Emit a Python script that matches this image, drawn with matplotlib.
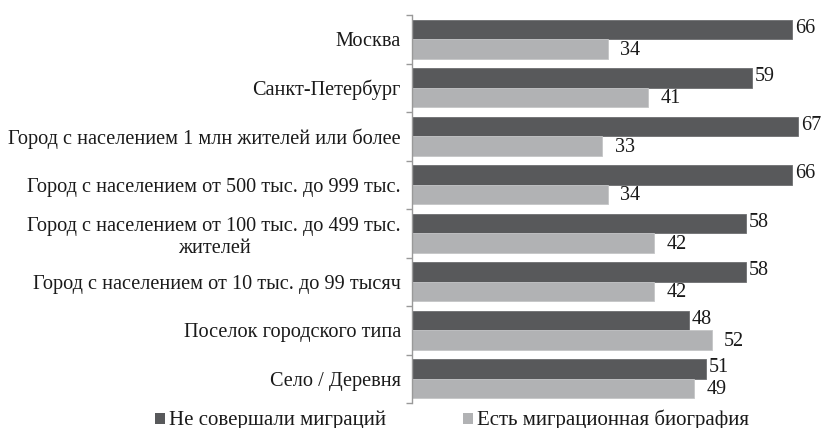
import numpy as np
import matplotlib
matplotlib.use('Agg')
import matplotlib.pyplot as plt
from matplotlib.patches import Rectangle

plt.rcParams['font.family'] = ['Liberation Serif', 'DejaVu Serif']

categories = ['Москва',
              'Санкт-Петербург',
              'Город с населением 1 млн жителей или более',
              'Город с населением от 500 тыс. до 999 тыс.',
              'Город с населением от 100 тыс. до 499 тыс.\nжителей',
              'Город с населением от 10 тыс. до 99 тысяч',
              'Поселок городского типа',
              'Село / Деревня']
no_migration = [66, 59, 67, 66, 58, 58, 48, 51]
migration = [34, 41, 33, 34, 42, 42, 52, 49]
series_names = ['Не совершали миграций', 'Есть миграционная биография']

dark = '#58595b'
light = '#b1b2b4'
text_col = '#1a1a1a'

W, H = 833, 428
fig = plt.figure(figsize=(W / 100, H / 100), dpi=100)
ax = fig.add_axes([412 / W, 1 - 403 / H, 415 / W, 388 / H])

y = np.arange(len(categories))
h = 0.4
ax.barh(y - h / 2, no_migration, height=h, color=dark, edgecolor='#6e6f71', linewidth=0.6)
ax.barh(y + h / 2, migration, height=h, color=light, edgecolor='#c4c5c7', linewidth=0.6)

# value labels just past the bar ends
for yi, v in zip(y, no_migration):
    ax.annotate(str(v), (v, yi - h / 2), xytext=(2, 1), textcoords='offset points',
                va='center', ha='left', fontsize=14.5, color=text_col)
for yi, v in zip(y, migration):
    ax.annotate(str(v), (v, yi + h / 2), xytext=(9, -1), textcoords='offset points',
                va='center', ha='left', fontsize=14.5, color=text_col)

ax.set_xlim(0, 72)
ax.set_ylim(len(categories) - 0.5, -0.5)
ax.set_yticks(y)
ax.set_yticklabels(categories, fontsize=14.6, color=text_col, multialignment='center')
ax.set_yticks(np.arange(len(categories) + 1) - 0.5, minor=True)
ax.tick_params(axis='y', which='major', length=0, pad=8)
ax.tick_params(axis='y', which='minor', length=4, color='#999999', width=1)
ax.set_xticks([])
for s in ['top', 'right', 'bottom']:
    ax.spines[s].set_visible(False)
ax.spines['left'].set_color('#999999')
ax.spines['left'].set_linewidth(1)

# legend below the plot: square swatch followed by the series name
for x0, color, label in [(155, dark, series_names[0]), (463, light, series_names[1])]:
    fig.add_artist(Rectangle((x0 / W, 4 / H), 10 / W, 11 / H, transform=fig.transFigure,
                             facecolor=color, edgecolor='none'))
    fig.text((x0 + 14) / W, 3.5 / H, label, fontsize=15, color=text_col,
             ha='left', va='baseline')

fig.savefig('out.png', dpi=100)
